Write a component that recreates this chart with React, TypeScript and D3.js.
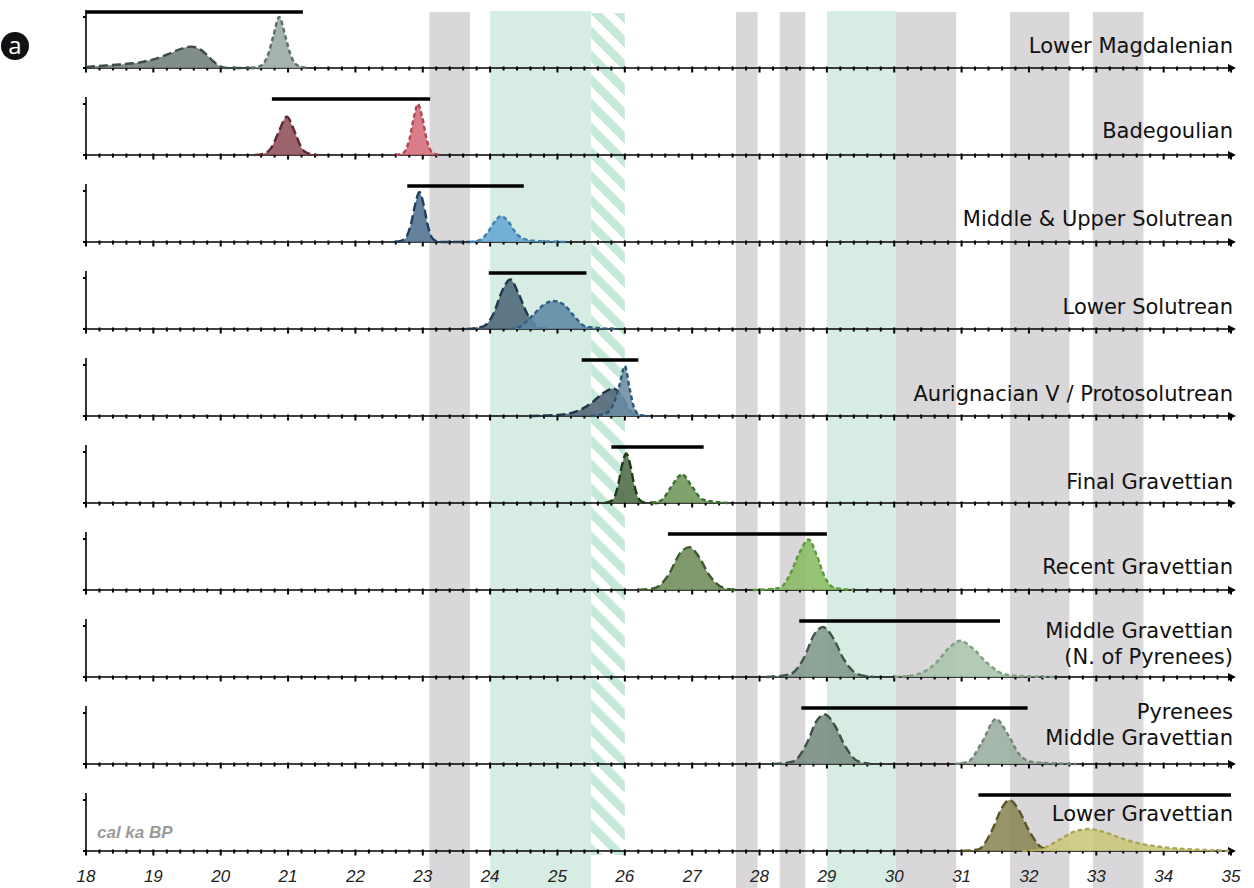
import React from 'react';
import * as d3 from 'd3';

// ---------- DATA ----------
const categories: string[][] = [
  ['Lower Magdalenian'],
  ['Badegoulian'],
  ['Middle & Upper Solutrean'],
  ['Lower Solutrean'],
  ['Aurignacian V / Protosolutrean'],
  ['Final Gravettian'],
  ['Recent Gravettian'],
  ['Middle Gravettian', '(N. of Pyrenees)'],
  ['Pyrenees', 'Middle Gravettian'],
  ['Lower Gravettian'],
];

// phase span bars (cal ka BP)
const phaseStart = [18.0, 20.76, 22.77, 23.98, 25.36, 25.8, 26.64, 28.59, 28.62, 31.25];
const phaseEnd = [21.22, 23.11, 24.5, 25.43, 26.2, 27.17, 29.0, 31.57, 31.98, 35.0];

// boundary A (long dash) probability curves: [age, relative probability]
const curveA: [number, number][][] = [
  [[18.0, 0.02], [18.2, 0.04], [18.5, 0.07], [18.8, 0.11], [19.0, 0.17], [19.2, 0.26], [19.4, 0.37], [19.56, 0.42], [19.7, 0.36], [19.8, 0.25], [19.9, 0.12], [20.0, 0.03], [20.1, 0.0], [20.6, 0.0]],
  [[20.5, 0.0], [20.65, 0.03], [20.75, 0.14], [20.86, 0.45], [20.98, 0.75], [21.1, 0.45], [21.2, 0.14], [21.3, 0.03], [21.45, 0.0]],
  [[22.6, 0.0], [22.73, 0.05], [22.83, 0.38], [22.89, 0.75], [22.95, 0.98], [23.01, 0.75], [23.07, 0.35], [23.15, 0.06], [23.25, 0.0], [23.7, 0.0]],
  [[23.65, 0.0], [23.9, 0.05], [24.05, 0.3], [24.18, 0.75], [24.3, 0.97], [24.42, 0.7], [24.55, 0.3], [24.7, 0.05], [24.85, 0.0]],
  [[24.6, 0.0], [25.0, 0.02], [25.3, 0.1], [25.5, 0.25], [25.68, 0.45], [25.83, 0.54], [25.95, 0.4], [26.05, 0.15], [26.15, 0.03], [26.25, 0.0]],
  [[25.7, 0.0], [25.82, 0.06], [25.9, 0.35], [25.96, 0.75], [26.02, 0.97], [26.08, 0.75], [26.14, 0.35], [26.22, 0.06], [26.32, 0.0], [26.5, 0.0]],
  [[26.2, 0.0], [26.45, 0.04], [26.65, 0.3], [26.82, 0.72], [26.96, 0.84], [27.1, 0.65], [27.25, 0.3], [27.45, 0.05], [27.65, 0.0]],
  [[28.1, 0.0], [28.45, 0.05], [28.65, 0.35], [28.82, 0.85], [28.94, 0.98], [29.1, 0.75], [29.25, 0.35], [29.45, 0.06], [29.7, 0.0]],
  [[28.2, 0.0], [28.5, 0.05], [28.7, 0.4], [28.85, 0.85], [28.97, 0.97], [29.12, 0.75], [29.27, 0.35], [29.45, 0.06], [29.65, 0.0]],
  [[31.0, 0.0], [31.25, 0.03], [31.45, 0.4], [31.6, 0.85], [31.71, 1.0], [31.85, 0.8], [32.0, 0.4], [32.2, 0.06], [32.4, 0.0]],
];

// boundary B (short dash) probability curves
const curveB: [number, number][][] = [
  [[20.45, 0.0], [20.6, 0.05], [20.7, 0.25], [20.78, 0.62], [20.87, 1.0], [20.96, 0.62], [21.04, 0.25], [21.14, 0.05], [21.3, 0.0]],
  [[22.6, 0.0], [22.72, 0.05], [22.8, 0.3], [22.87, 0.75], [22.93, 1.0], [22.99, 0.75], [23.06, 0.3], [23.14, 0.05], [23.25, 0.0]],
  [[23.7, 0.0], [23.85, 0.04], [23.97, 0.2], [24.07, 0.4], [24.16, 0.51], [24.27, 0.4], [24.37, 0.2], [24.5, 0.06], [24.7, 0.02], [25.0, 0.005], [25.15, 0.0]],
  [[24.3, 0.0], [24.45, 0.05], [24.62, 0.25], [24.8, 0.48], [24.94, 0.55], [25.1, 0.47], [25.25, 0.25], [25.4, 0.06], [25.6, 0.02], [25.9, 0.0]],
  [[25.5, 0.0], [25.7, 0.04], [25.82, 0.2], [25.92, 0.6], [26.0, 0.98], [26.07, 0.55], [26.14, 0.15], [26.22, 0.02], [26.35, 0.0]],
  [[26.4, 0.0], [26.55, 0.06], [26.68, 0.3], [26.85, 0.56], [27.0, 0.32], [27.15, 0.07], [27.35, 0.02], [27.55, 0.0]],
  [[27.9, 0.0], [28.3, 0.04], [28.45, 0.3], [28.6, 0.75], [28.73, 0.99], [28.85, 0.68], [28.97, 0.25], [29.1, 0.05], [29.4, 0.0]],
  [[30.0, 0.0], [30.3, 0.04], [30.6, 0.25], [30.82, 0.58], [30.98, 0.71], [31.15, 0.58], [31.4, 0.25], [31.65, 0.05], [32.0, 0.01], [32.4, 0.0]],
  [[30.9, 0.0], [31.1, 0.05], [31.3, 0.42], [31.51, 0.88], [31.7, 0.55], [31.85, 0.2], [32.05, 0.04], [32.4, 0.01], [32.7, 0.0]],
  [[31.9, 0.0], [32.2, 0.05], [32.45, 0.22], [32.65, 0.37], [32.88, 0.43], [33.1, 0.38], [33.35, 0.26], [33.6, 0.16], [33.9, 0.09], [34.3, 0.04], [34.7, 0.015], [35.0, 0.0]],
];

const fillA = ['#707d78', '#8e4f58', '#4d6f8f', '#4d6778', '#4e6273', '#4f6b47', '#6d8a58', '#7f978a', '#768a7e', '#8a8655'];
const strokeA = ['#3e4b47', '#5a2a32', '#1f3e5e', '#1f3a4f', '#1e3446', '#1f3a1a', '#3d5a2e', '#3f5548', '#3d5045', '#5a5625'];
const fillB = ['#98a9a4', '#d66b78', '#66a6d4', '#5e87a5', '#6b8ca3', '#6e9558', '#88bb62', '#a8c4aa', '#98ad9e', '#c9c77a'];
const strokeB = ['#5a6e69', '#b04656', '#3b7fb3', '#2f5f85', '#2c5673', '#3d6a2e', '#5b9a35', '#7fa085', '#6f8676', '#a9a555'];

// climatic bands (cal ka BP)
const grayBands: [number, number][] = [[23.1, 23.7], [27.65, 27.97], [28.3, 28.68], [30.02, 30.92], [31.72, 32.6], [32.95, 33.7]];
const greenBands: [number, number][] = [[24.0, 25.5], [29.0, 30.02]];
const hatchBands: [number, number][] = [[25.5, 26.0]];

const tickLabels = [18, 19, 20, 21, 22, 23, 24, 25, 26, 27, 28, 29, 30, 31, 32, 33, 34, 35];
const unitLabel = 'cal ka BP';
const panelTag = 'a';

// ---------- LAYOUT ----------
const W = 1254;
const H = 888;
const X0 = 86;
const X1 = 1231;
const firstBase = 68;
const panelStep = 87;
const unitH = 51;
const labelDy: number[][] = [[-15], [-17], [-16], [-15], [-15], [-14], [-16], [-39, -13], [-45, -19], [-30]];

export default function App() {
  const x = d3.scaleLinear().domain([18, 35]).range([X0, X1]);
  const minorTicks = x.ticks(68);
  const bases = categories.map((_, i) => firstBase + i * panelStep);

  const makeArea = (base: number) => {
    const y = d3.scaleLinear().domain([0, 1]).range([base, base - unitH]);
    return {
      area: d3.area<[number, number]>().x(d => x(d[0])).y0(base).y1(d => y(d[1])).curve(d3.curveMonotoneX),
      line: d3.line<[number, number]>().x(d => x(d[0])).y(d => y(d[1])).curve(d3.curveMonotoneX),
    };
  };

  const labelFont = "'DejaVu Sans', sans-serif";

  return (
    <svg width={W} height={H} style={{ position: 'absolute', left: 0, top: 0, background: '#fff' }}>
      <defs>
        <pattern id="hatch" patternUnits="userSpaceOnUse" width={17} height={17} patternTransform="rotate(-45)">
          <rect x={0} y={0} width={17} height={17} fill="#ffffff" />
          <rect x={0} y={0} width={8.5} height={17} fill="#c6e8d8" />
        </pattern>
        <marker id="arrow" viewBox="0 0 10 10" refX={5} refY={5} markerWidth={5} markerHeight={5} orient="auto">
          <path d="M0,0 L10,5 L0,10 z" fill="#000" />
        </marker>
      </defs>

      {/* bands */}
      {greenBands.map((b, i) => (
        <rect key={'g' + i} x={x(b[0])} y={11} width={x(b[1]) - x(b[0])} height={H - 11} fill="#d7ece2" />
      ))}
      {grayBands.map((b, i) => (
        <rect key={'r' + i} x={x(b[0])} y={12} width={x(b[1]) - x(b[0])} height={H - 12} fill="#d9d7d9" />
      ))}
      {hatchBands.map((b, i) => (
        <rect key={'h' + i} x={x(b[0])} y={13} width={x(b[1]) - x(b[0])} height={842} fill="url(#hatch)" />
      ))}

      {/* panel tag */}
      <circle cx={15} cy={46} r={14} fill="#111" />
      <text x={15} y={54} textAnchor="middle" fill="#fff" fontFamily="'Open Sans', sans-serif" fontSize={24}>{panelTag}</text>

      {bases.map((base, i) => {
        const g = makeArea(base);
        return (
          <g key={i}>
            {/* axes */}
            <line x1={X0} x2={X0} y1={base - 58} y2={base + 1} stroke="#000" strokeWidth={1.6} />
            <line x1={X0 - 3} x2={X0} y1={base - unitH} y2={base - unitH} stroke="#000" strokeWidth={2} />
            <line x1={X0 - 3} x2={X0} y1={base} y2={base} stroke="#000" strokeWidth={2} />
            <line x1={X0} x2={X1 + 1} y1={base} y2={base} stroke="#000" strokeWidth={1.6} markerEnd="url(#arrow)" />
            {minorTicks.map((t, k) => {
              const major = Math.abs(t - Math.round(t)) < 1e-6;
              return (
                <line key={k} x1={x(t)} x2={x(t)} y1={base - 1.5} y2={base + (major ? 4.5 : 2.5)} stroke="#000" strokeWidth={2} />
              );
            })}
            {/* curves */}
            <path d={g.area(curveA[i]) || ''} fill={fillA[i]} fillOpacity={0.88} />
            <path d={g.line(curveA[i]) || ''} fill="none" stroke={strokeA[i]} strokeWidth={2.4} strokeDasharray="9,4" />
            <path d={g.area(curveB[i]) || ''} fill={fillB[i]} fillOpacity={0.88} />
            <path d={g.line(curveB[i]) || ''} fill="none" stroke={strokeB[i]} strokeWidth={2.4} strokeDasharray="4.5,3" />
            {/* phase bar */}
            <line x1={x(phaseStart[i])} x2={x(phaseEnd[i])} y1={base - 56} y2={base - 56} stroke="#000" strokeWidth={3.5} />
            {/* labels */}
            {categories[i].map((t, j) => (
              <text key={j} x={1233} y={base + labelDy[i][j]} textAnchor="end" fontFamily={labelFont} fontSize={21} fill="#111">{t}</text>
            ))}
          </g>
        );
      })}

      {/* bottom tick labels */}
      {tickLabels.map(t => (
        <text key={t} x={x(t)} y={882} textAnchor="middle" fontFamily="'Liberation Sans', Arial, sans-serif" fontStyle="italic" fontSize={17} fill="#222">{t}</text>
      ))}
      <text x={97} y={838} fontFamily="'Liberation Sans', Arial, sans-serif" fontStyle="italic" fontWeight="bold" fontSize={17} fill="#9a9a9a">{unitLabel}</text>
    </svg>
  );
}
